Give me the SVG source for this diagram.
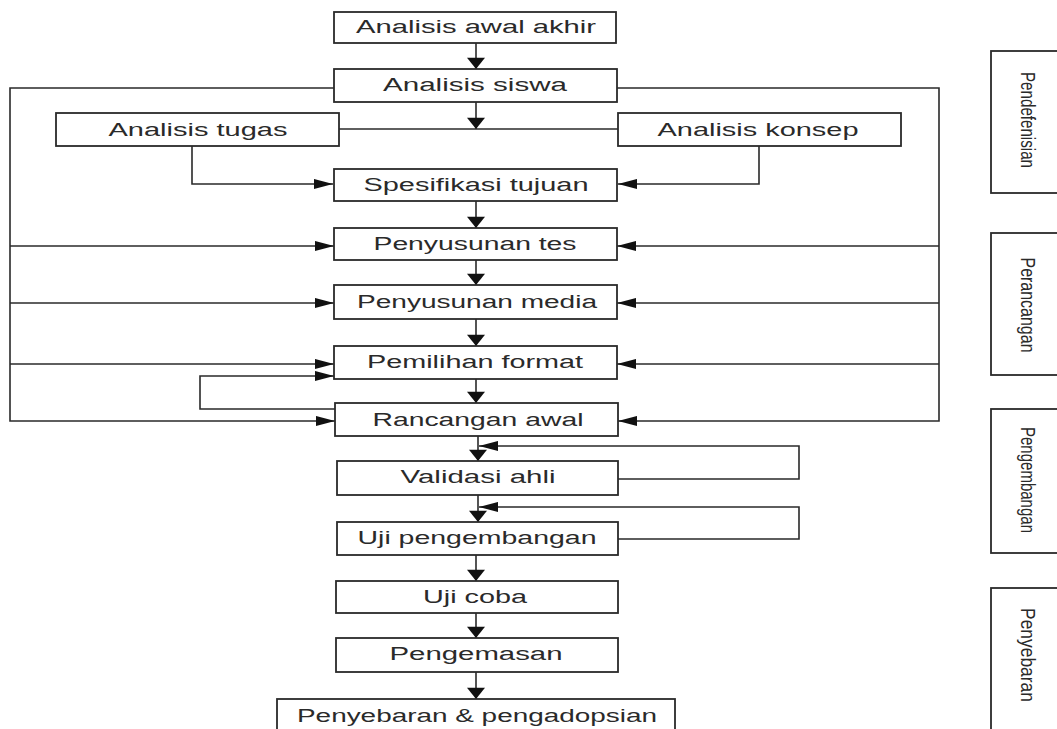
<svg xmlns="http://www.w3.org/2000/svg" width="1057" height="729" viewBox="0 0 1057 729">
<style>
.box{fill:#fff;stroke:#2a2a2a;stroke-width:1.8}
.lbl{font-family:"Liberation Sans",Arial,sans-serif;font-size:18px;fill:#2a2a2a;text-anchor:middle}
.ph{font-family:"Liberation Sans",Arial,sans-serif;font-size:13px;fill:#2a2a2a;text-anchor:middle}
.ln{fill:none;stroke:#2a2a2a;stroke-width:1.6}
.va{marker-end:url(#av)}
.ha{marker-end:url(#ah)}
</style>
<defs>
<marker id="av" markerUnits="userSpaceOnUse" markerWidth="12" markerHeight="18" refX="10" refY="8" orient="auto" viewBox="0 0 10 16"><path d="M0,0 L10,8 L0,16 Z" fill="#111"/></marker>
<marker id="ah" markerUnits="userSpaceOnUse" markerWidth="19" markerHeight="11" refX="17" refY="4.5" orient="auto" viewBox="0 0 17 9"><path d="M0,0 L17,4.5 L0,9 Z" fill="#111"/></marker>
</defs>
<rect width="1057" height="729" fill="#fff"/>
<g id="connectors">
<path class="ln va" d="M476,43 V69"/>
<path class="ln va" d="M476,102 V129"/>
<path class="ln" d="M339,129 H618"/>
<path class="ln ha" d="M192,146 V184 H333"/>
<path class="ln ha" d="M759,146 V184 H618"/>
<path class="ln va" d="M476,201 V228"/>
<path class="ln va" d="M476,260 V285"/>
<path class="ln va" d="M476,319 V346"/>
<path class="ln va" d="M476,379 V403"/>
<path class="ln va" d="M478,436 V461"/>
<path class="ln va" d="M478,495 V522"/>
<path class="ln va" d="M476,555 V581"/>
<path class="ln va" d="M476,613 V638"/>
<path class="ln va" d="M476,672 V699"/>
<path class="ln ha" d="M334,88 H10 V421 H335"/>
<path class="ln ha" d="M10,246 H334"/>
<path class="ln ha" d="M10,303 H334"/>
<path class="ln ha" d="M10,364 H334"/>
<path class="ln ha" d="M617,88 H939 V421 H618"/>
<path class="ln ha" d="M939,246 H617"/>
<path class="ln ha" d="M939,303 H617"/>
<path class="ln ha" d="M939,364 H617"/>
<path class="ln ha" d="M335,409 H200 V376 H334"/>
<path class="ln ha" d="M618,479 H799 V446 H479"/>
<path class="ln ha" d="M618,539 H799 V507 H479"/>
</g>
<g id="n1"><rect class="box" x="334" y="12" width="282" height="31"/><text class="lbl" x="476" y="33" textLength="240" lengthAdjust="spacingAndGlyphs">Analisis awal akhir</text></g>
<g id="n2"><rect class="box" x="334" y="69" width="283" height="33"/><text class="lbl" x="475" y="91" textLength="184" lengthAdjust="spacingAndGlyphs">Analisis siswa</text></g>
<g id="n3"><rect class="box" x="56" y="113" width="283" height="33"/><text class="lbl" x="198" y="136" textLength="179" lengthAdjust="spacingAndGlyphs">Analisis tugas</text></g>
<g id="n4"><rect class="box" x="618" y="113" width="283" height="33"/><text class="lbl" x="758" y="136" textLength="201" lengthAdjust="spacingAndGlyphs">Analisis konsep</text></g>
<g id="n5"><rect class="box" x="334" y="169" width="283" height="32"/><text class="lbl" x="476" y="191" textLength="225" lengthAdjust="spacingAndGlyphs">Spesifikasi tujuan</text></g>
<g id="n6"><rect class="box" x="334" y="228" width="283" height="32"/><text class="lbl" x="475" y="250" textLength="203" lengthAdjust="spacingAndGlyphs">Penyusunan tes</text></g>
<g id="n7"><rect class="box" x="334" y="285" width="283" height="34"/><text class="lbl" x="477" y="308" textLength="240" lengthAdjust="spacingAndGlyphs">Penyusunan media</text></g>
<g id="n8"><rect class="box" x="334" y="346" width="283" height="33"/><text class="lbl" x="475" y="368" textLength="216" lengthAdjust="spacingAndGlyphs">Pemilihan format</text></g>
<g id="n9"><rect class="box" x="335" y="403" width="283" height="33"/><text class="lbl" x="478" y="426" textLength="211" lengthAdjust="spacingAndGlyphs">Rancangan awal</text></g>
<g id="n10"><rect class="box" x="337" y="461" width="281" height="34"/><text class="lbl" x="478" y="483" textLength="155" lengthAdjust="spacingAndGlyphs">Validasi ahli</text></g>
<g id="n11"><rect class="box" x="337" y="522" width="281" height="33"/><text class="lbl" x="477" y="544" textLength="239" lengthAdjust="spacingAndGlyphs">Uji pengembangan</text></g>
<g id="n12"><rect class="box" x="336" y="581" width="282" height="32"/><text class="lbl" x="475" y="603" textLength="104" lengthAdjust="spacingAndGlyphs">Uji coba</text></g>
<g id="n13"><rect class="box" x="336" y="638" width="282" height="34"/><text class="lbl" x="476" y="660" textLength="173" lengthAdjust="spacingAndGlyphs">Pengemasan</text></g>
<g id="n14"><rect class="box" x="277" y="699" width="398" height="42"/><text class="lbl" x="477" y="722" textLength="360" lengthAdjust="spacingAndGlyphs">Penyebaran &amp; pengadopsian</text></g>
<g id="p1"><rect class="box" x="991" y="51" width="90" height="142"/><text class="ph" transform="translate(1021,120) rotate(90) scale(1,1.6)" textLength="96" lengthAdjust="spacingAndGlyphs">Pendefenisian</text></g>
<g id="p2"><rect class="box" x="991" y="233" width="90" height="142"/><text class="ph" transform="translate(1021,305) rotate(90) scale(1,1.6)" textLength="95" lengthAdjust="spacingAndGlyphs">Perancangan</text></g>
<g id="p3"><rect class="box" x="991" y="409" width="90" height="144"/><text class="ph" transform="translate(1021,480) rotate(90) scale(1,1.6)" textLength="106" lengthAdjust="spacingAndGlyphs">Pengembangan</text></g>
<g id="p4"><rect class="box" x="991" y="588" width="90" height="160"/><text class="ph" transform="translate(1021,655) rotate(90) scale(1,1.6)" textLength="94" lengthAdjust="spacingAndGlyphs">Penyebaran</text></g>
</svg>
